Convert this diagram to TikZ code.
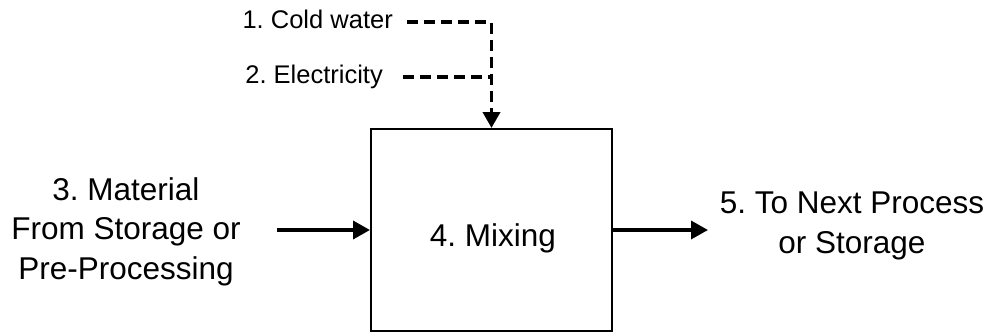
\documentclass[tikz,border=0pt]{standalone}
\usepackage{fontspec}
\setmainfont{Liberation Sans}
\usetikzlibrary{arrows.meta}
\begin{document}
\frenchspacing
\begin{tikzpicture}[x=1pt,y=-1pt,
  bigtext/.style={font=\fontsize{31.5}{39.5}\selectfont, align=center, inner sep=0pt},
  smalltext/.style={font=\fontsize{25.5}{29}\selectfont, inner sep=0pt, anchor=base east},
  processbox/.style={draw, line width=2pt, minimum width=241pt, minimum height=202pt, inner sep=0pt},
  flow/.style={line width=3.5pt, -{Triangle[length=17pt,width=18pt]}},
  dashline/.style={line width=3.8pt, dash pattern=on 11pt off 6pt},
]
\useasboundingbox (0,0) rectangle (990,332);
\node[processbox] (mix) at (491.5,230) {};
\node[bigtext, anchor=base] (mixlabel) at (493,246) {4. Mixing};
\node[bigtext] (input) at (126,231.5) {3. Material\\From Storage or\\Pre-Processing};
\node[bigtext] (output) at (852,226) {5. To Next Process\\or Storage};
\node[smalltext] (cold) at (393,28.3) {1. Cold water};
\node[smalltext] (elec) at (383,83.3) {2. Electricity};
\coordinate (cwstart) at (407,22);
\coordinate (elstart) at (403,77);
\coordinate (inl) at (277,230);
\coordinate (outr) at (708,230);
\draw[flow] (inl) -- (mix.west);
\draw[flow] (mix.east) -- (outr);
\draw[dashline] (elstart) -- (elstart -| mix.north);
\draw[dashline, -{Triangle[length=16pt,width=17pt]}] (cwstart) -| (mix.north);
\end{tikzpicture}
\end{document}
